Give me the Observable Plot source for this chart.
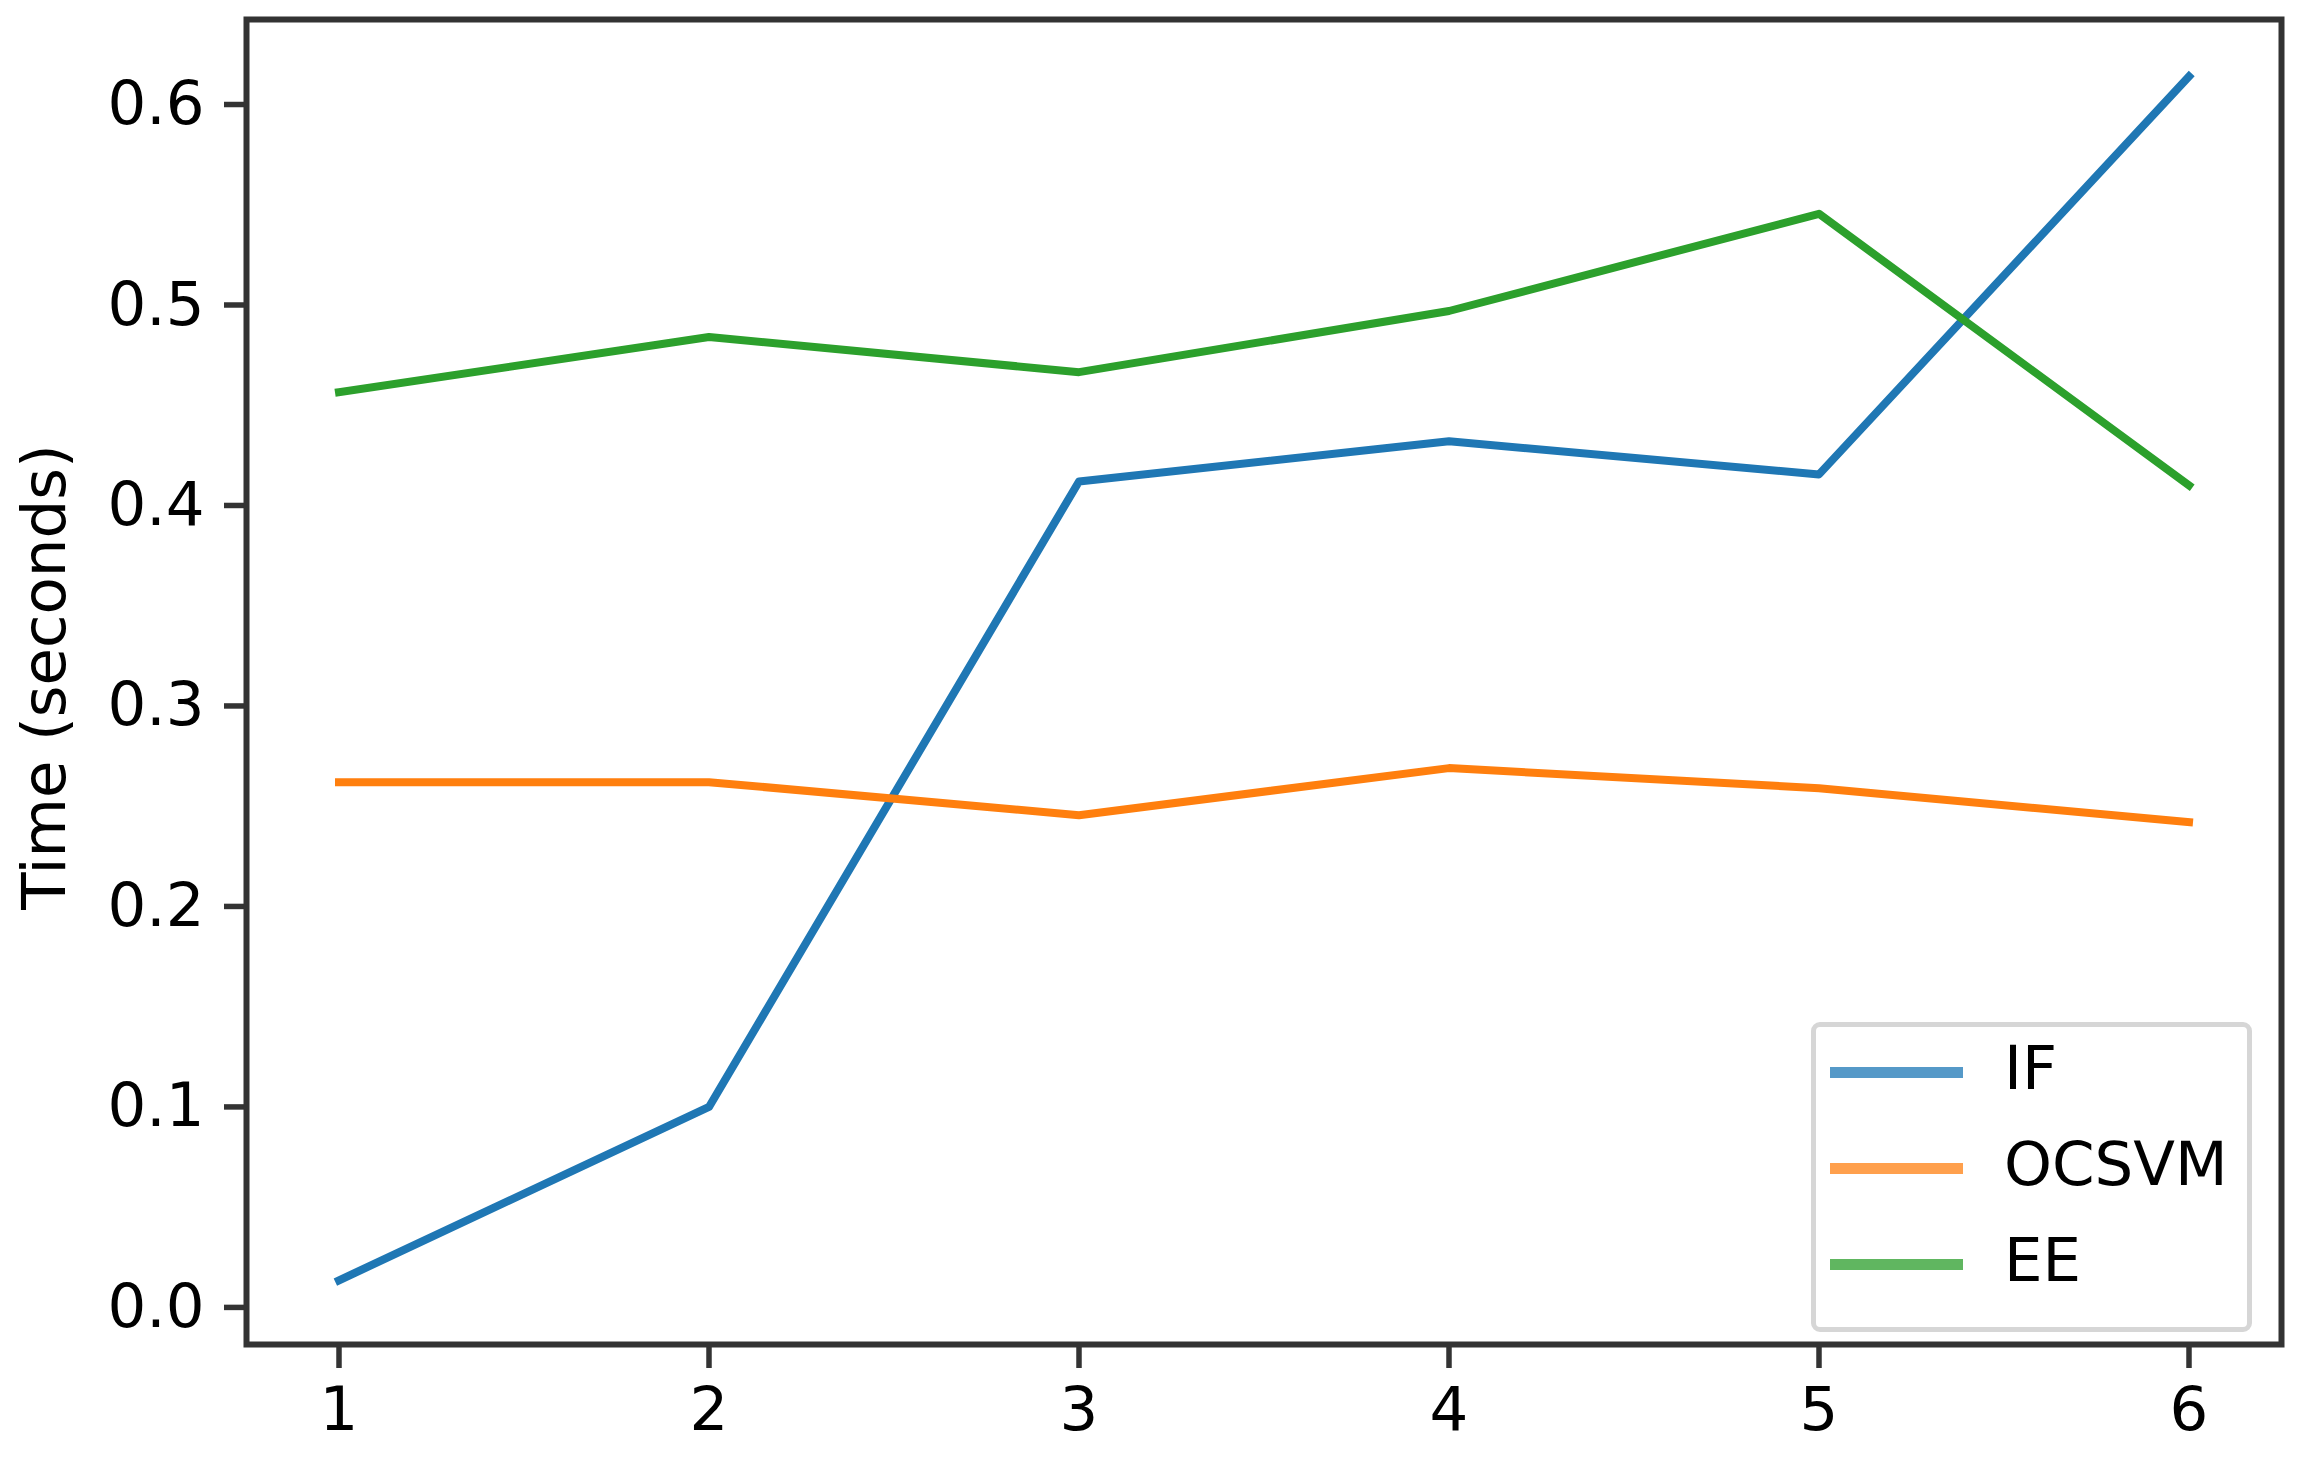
<!DOCTYPE html>
<html>
<head>
<meta charset="utf-8">
<script src="https://cdn.jsdelivr.net/npm/d3@7"></script>
<script src="https://cdn.jsdelivr.net/npm/@observablehq/plot@0.6"></script>
<style>
  html, body { margin: 0; padding: 0; background: #fff; }
  #wrap { position: relative; width: 2299px; height: 1459px; font-family: "DejaVu Sans", sans-serif; }
  #legend {
    position: absolute; left: 1811px; top: 1022px; width: 431px; height: 300px;
    border: 5px solid #d6d6d6; border-radius: 9px; background: rgba(255,255,255,0.8);
  }
  .item { position: absolute; left: 0; height: 0; }
  .swatch { position: absolute; left: 14px; width: 133px; height: 11px; margin-top: -5.5px; }
  .lab { position: absolute; left: 188px; font-size: 61px; line-height: 61px; margin-top: -35px; color: #000; white-space: nowrap; }
</style>
</head>
<body>
<div id="wrap"></div>
<script>
const xValues = [1, 2, 3, 4, 5, 6];
const seriesNames = ["IF", "OCSVM", "EE"];
const ifTimes = [0.0135, 0.100, 0.412, 0.432, 0.4155, 0.614];
const ocsvmTimes = [0.262, 0.262, 0.2455, 0.269, 0.259, 0.242];
const eeTimes = [0.4565, 0.484, 0.4665, 0.497, 0.5455, 0.410];
const seriesColors = ["#1f77b4", "#ff7f0e", "#2ca02c"];
const legendColors = ["#5599c8", "#ffa04d", "#60b660"];
const xTicks = [1, 2, 3, 4, 5, 6];
const yTicks = [0.0, 0.1, 0.2, 0.3, 0.4, 0.5, 0.6];
const yLabel = "Time (seconds)";

const allSeries = [ifTimes, ocsvmTimes, eeTimes];
const rows = [];
seriesNames.forEach((name, i) => {
  xValues.forEach((x, j) => rows.push({series: name, x, y: allSeries[i][j]}));
});

const font = "DejaVu Sans, sans-serif";

const chart = Plot.plot({
  width: 2299,
  height: 1459,
  marginLeft: 246,
  marginRight: 18,
  marginTop: 19,
  marginBottom: 115,
  style: {fontFamily: font, fontSize: "61px", background: "white", color: "#000"},
  x: {domain: [0.75, 6.25], ticks: xTicks, tickFormat: d3.format("d"), label: null},
  y: {domain: [-0.0185, 0.6424], ticks: yTicks, tickFormat: d3.format(".1f"), label: null},
  color: {domain: seriesNames, range: seriesColors},
  marks: [
    Plot.line(rows, {x: "x", y: "y", z: "series", stroke: "series", strokeWidth: 8,
      strokeLinejoin: "round", strokeLinecap: "square"}),
    Plot.axisX({ticks: xTicks, tickFormat: d3.format("d"), tickSize: 24, tickPadding: 18,
      strokeWidth: 5.5, stroke: "#333", fill: "#000", fontSize: 61, label: null}),
    Plot.axisY({ticks: yTicks, tickFormat: d3.format(".1f"), tickSize: 22, tickPadding: 20,
      strokeWidth: 5.5, stroke: "#333", fill: "#000", fontSize: 61, label: null}),
    Plot.text([yLabel], {text: d => d, frameAnchor: "left", dx: -201, dy: -5, rotate: -90,
      fontSize: 61, fill: "#000", textAnchor: "middle", lineAnchor: "middle"}),
    Plot.frame({stroke: "#333", strokeWidth: 6})
  ]
});

const wrap = document.getElementById("wrap");
wrap.appendChild(chart);

const legend = document.createElement("div");
legend.id = "legend";
const itemTops = [45, 141, 237];
seriesNames.forEach((name, i) => {
  const item = document.createElement("div");
  item.className = "item";
  item.style.top = itemTops[i] + "px";
  const sw = document.createElement("div");
  sw.className = "swatch";
  sw.style.background = legendColors[i];
  const lab = document.createElement("div");
  lab.className = "lab";
  lab.textContent = name;
  item.appendChild(sw);
  item.appendChild(lab);
  legend.appendChild(item);
});
wrap.appendChild(legend);
</script>
</body>
</html>
